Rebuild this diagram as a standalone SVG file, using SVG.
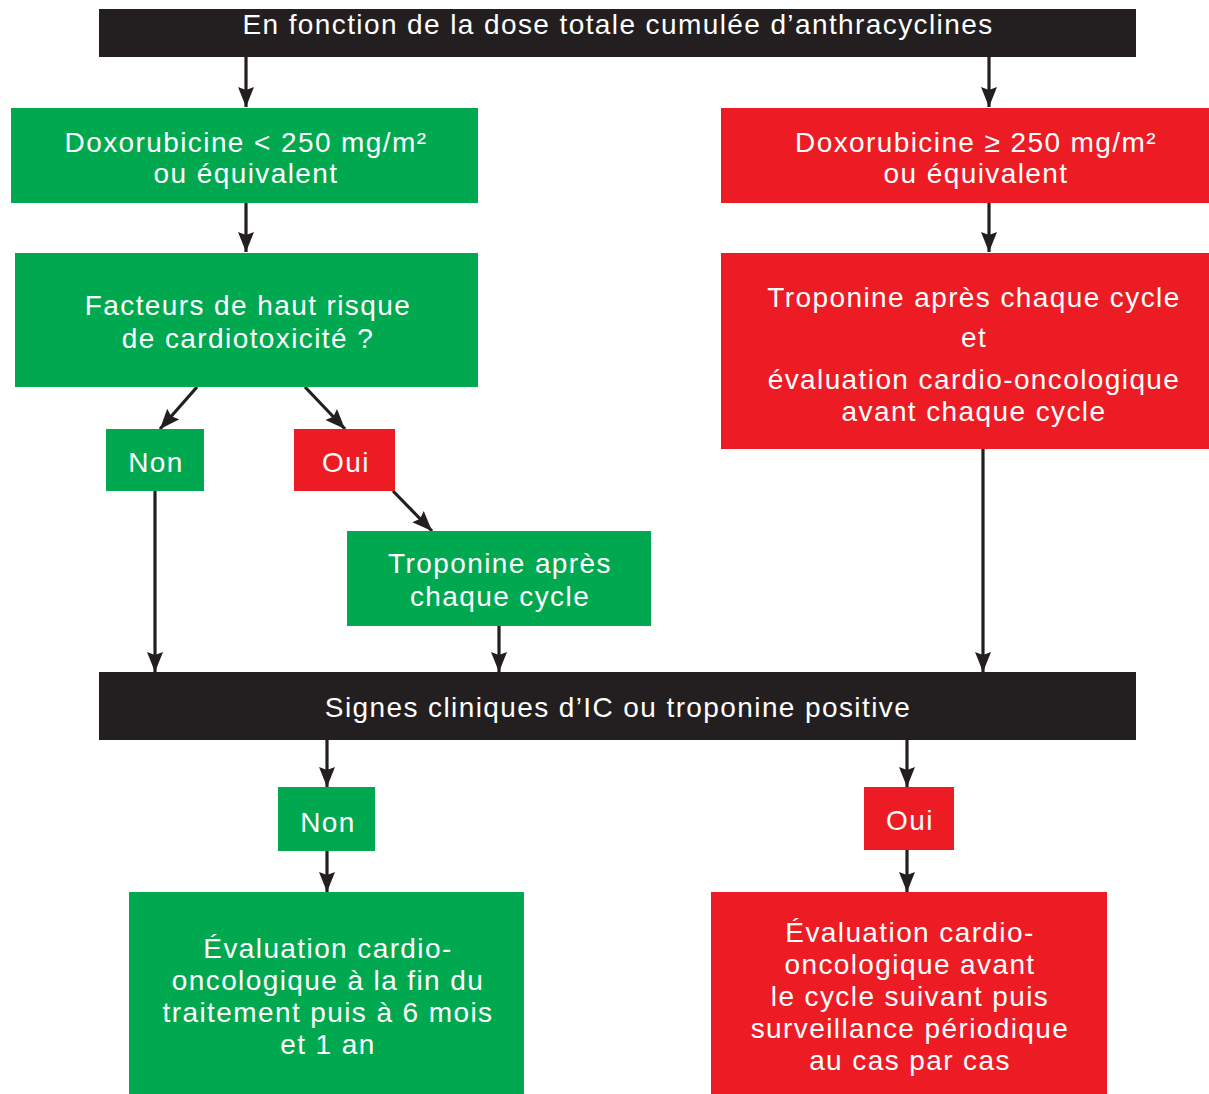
<svg xmlns="http://www.w3.org/2000/svg" width="1209" height="1094" viewBox="0 0 1209 1094">
<style>
.bg{fill:#ffffff}
.black{fill:#231F20}
.green{fill:#00A94F}
.red{fill:#ED1C24}
text{font-family:"Liberation Sans",Arial,Helvetica,sans-serif;fill:#ffffff;text-anchor:middle}
.t{font-size:28px;letter-spacing:1.4px}
.c{stroke:#231F20;stroke-width:3.2;fill:none}
</style>
<defs>
<marker id="ah" markerUnits="userSpaceOnUse" markerWidth="22" markerHeight="18" refX="20" refY="8" orient="auto" viewBox="0 0 22 16">
<path d="M0,0 L20,8 L0,16 L3,8 z" fill="#231F20"/>
</marker>
</defs>
<rect class="bg" x="0" y="0" width="1209" height="1094"/>

<g id="connectors">
<line class="c" x1="246" y1="57" x2="246" y2="107" marker-end="url(#ah)"/>
<line class="c" x1="989" y1="57" x2="989" y2="107" marker-end="url(#ah)"/>
<line class="c" x1="246" y1="203" x2="246" y2="252" marker-end="url(#ah)"/>
<line class="c" x1="989" y1="203" x2="989" y2="252" marker-end="url(#ah)"/>
<line class="c" x1="197" y1="387" x2="160" y2="429" marker-end="url(#ah)"/>
<line class="c" x1="305" y1="387" x2="345" y2="429" marker-end="url(#ah)"/>
<line class="c" x1="393" y1="491" x2="432" y2="531" marker-end="url(#ah)"/>
<line class="c" x1="155" y1="491" x2="155" y2="672" marker-end="url(#ah)"/>
<line class="c" x1="499" y1="626" x2="499" y2="672" marker-end="url(#ah)"/>
<line class="c" x1="983" y1="449" x2="983" y2="672" marker-end="url(#ah)"/>
<line class="c" x1="327" y1="740" x2="327" y2="787" marker-end="url(#ah)"/>
<line class="c" x1="327" y1="851" x2="327" y2="892" marker-end="url(#ah)"/>
<line class="c" x1="907" y1="740" x2="907" y2="787" marker-end="url(#ah)"/>
<line class="c" x1="907" y1="850" x2="907" y2="892" marker-end="url(#ah)"/>
</g>

<g id="top">
<rect class="black" x="99" y="9" width="1037" height="48"/>
<text class="t" x="618" y="34">En fonction de la dose totale cumulée d’anthracyclines</text>
</g>

<g id="doxo-low">
<rect class="green" x="11" y="108" width="467" height="95"/>
<text class="t" x="246" y="152">Doxorubicine &lt; 250 mg/m²</text>
<text class="t" x="246" y="183">ou équivalent</text>
</g>

<g id="doxo-high">
<rect class="red" x="721" y="108" width="488" height="95"/>
<text class="t" x="976" y="152">Doxorubicine ≥ 250 mg/m²</text>
<text class="t" x="976" y="183">ou équivalent</text>
</g>

<g id="facteurs">
<rect class="green" x="15" y="253" width="463" height="134"/>
<text class="t" x="248" y="315">Facteurs de haut risque</text>
<text class="t" x="248" y="348">de cardiotoxicité ?</text>
</g>

<g id="non1">
<rect class="green" x="106" y="429" width="98" height="62"/>
<text class="t" x="156" y="472">Non</text>
</g>

<g id="oui1">
<rect class="red" x="294" y="429" width="101" height="62"/>
<text class="t" x="346" y="472">Oui</text>
</g>

<g id="troponine-green">
<rect class="green" x="347" y="531" width="304" height="95"/>
<text class="t" x="500" y="573">Troponine après</text>
<text class="t" x="500" y="606">chaque cycle</text>
</g>

<g id="troponine-red">
<rect class="red" x="721" y="253" width="488" height="196"/>
<text class="t" x="974" y="307">Troponine après chaque cycle</text>
<text class="t" x="974" y="347">et</text>
<text class="t" x="974" y="389">évaluation cardio-oncologique</text>
<text class="t" x="974" y="421">avant chaque cycle</text>
</g>

<g id="signes">
<rect class="black" x="99" y="672" width="1037" height="68"/>
<text class="t" x="618" y="717">Signes cliniques d’IC ou troponine positive</text>
</g>

<g id="non2">
<rect class="green" x="278" y="787" width="97" height="64"/>
<text class="t" x="328" y="832">Non</text>
</g>

<g id="oui2">
<rect class="red" x="864" y="787" width="90" height="63"/>
<text class="t" x="910" y="830">Oui</text>
</g>

<g id="eval-green">
<rect class="green" x="129" y="892" width="395" height="202"/>
<text class="t" x="328" y="958">Évaluation cardio-</text>
<text class="t" x="328" y="990">oncologique à la fin du</text>
<text class="t" x="328" y="1022">traitement puis à 6 mois</text>
<text class="t" x="328" y="1054">et 1 an</text>
</g>

<g id="eval-red">
<rect class="red" x="711" y="892" width="396" height="202"/>
<text class="t" x="910" y="942">Évaluation cardio-</text>
<text class="t" x="910" y="974">oncologique avant</text>
<text class="t" x="910" y="1006">le cycle suivant puis</text>
<text class="t" x="910" y="1038">surveillance périodique</text>
<text class="t" x="910" y="1070">au cas par cas</text>
</g>
</svg>
